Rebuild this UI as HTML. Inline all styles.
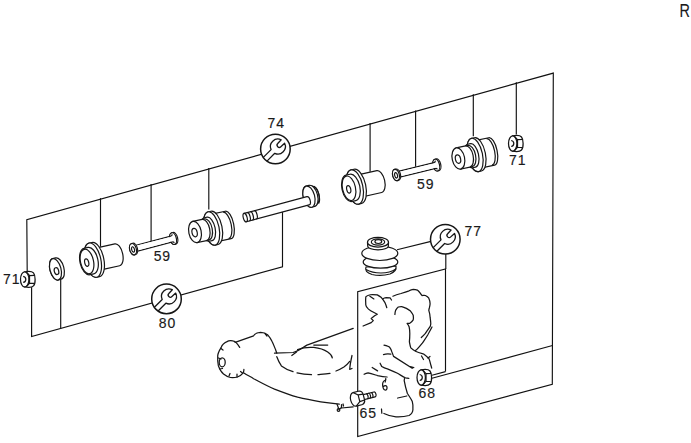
<!DOCTYPE html>
<html><head><meta charset="utf-8">
<style>
html,body{margin:0;padding:0;background:#fff;width:691px;height:443px;overflow:hidden}
svg{display:block}
text{font-family:"Liberation Sans",sans-serif;fill:#1a1a1a}
</style></head>
<body>
<svg width="691" height="443" viewBox="0 0 691 443">
<defs>
  <!-- bushing type 1: flange at front -->
  <g id="b1" stroke="#161616" stroke-width="1.2" fill="#fff">
    <path d="M8,-11.2 L31,-11.2 A5.5,11.2 0 0 1 31,11.2 L8,11.2 Z"/>
    <path d="M6,-17.5 L9,-17.5 A8,17.5 0 0 1 9,17.5 L6,17.5 A8,17.5 0 0 1 6,-17.5 Z"/>
    <ellipse cx="6" cy="0" rx="8" ry="17.5"/>
    <path d="M0,-13.5 L4,-13.5 A7,13.5 0 0 1 4,13.5 L0,13.5 A7,13.5 0 0 1 0,-13.5Z"/>
    <ellipse cx="0" cy="0" rx="6.5" ry="12.5"/>
    <ellipse cx="-0.5" cy="1" rx="2" ry="3.8"/>
  </g>
  <!-- bushing type 2: small cylinder at front -->
  <g id="b2" stroke="#161616" stroke-width="1.2" fill="#fff">
    <path d="M20,-14 L34,-14 A5.5,14 0 0 1 34,14 L20,14 Z"/>
    <path d="M31.5,-13.5 A5.5,13.5 0 0 1 31.5,13.5" fill="none"/>
    <path d="M17,-17 L20,-17 A7.5,17 0 0 1 20,17 L17,17 A7.5,17 0 0 1 17,-17Z"/>
    <ellipse cx="17" cy="0" rx="7.5" ry="17"/>
    <path d="M12,-12 L15,-12 A5.5,12 0 0 1 15,12 L12,12 A5.5,12 0 0 1 12,-12Z"/>
    <path d="M0,-10.8 L12,-10.8 A5.5,10.8 0 0 1 12,10.8 L0,10.8 Z"/>
    <path d="M9.5,-10.8 A5.5,10.8 0 0 1 9.5,10.8" fill="none"/>
    <ellipse cx="0" cy="0" rx="6.2" ry="10.8"/>
    <ellipse cx="-0.5" cy="0.5" rx="2.6" ry="4.3"/>
  </g>
  <!-- thin bolt 59 -->
  <g id="bt" stroke="#161616" stroke-width="1.2" fill="#fff">
    <path d="M41.5,-6 L42.8,-6 A3.2,6 0 0 1 42.8,6 L41.5,6 A3.2,6 0 0 1 41.5,-6Z"/>
    <ellipse cx="41.5" cy="0" rx="3.2" ry="6"/>
    <path d="M1,-3 L40,-3 Q41.5,-3 41.5,-4.5 M1,3 L40,3 Q41.5,3 41.5,4.5" fill="none"/>
    <rect x="1" y="-2.4" width="40" height="4.8" stroke="none"/>
    <path d="M0,-5.8 L1.2,-5.8 A3.3,5.8 0 0 1 1.2,5.8 L0,5.8 A3.3,5.8 0 0 1 0,-5.8Z"/>
    <ellipse cx="0" cy="0" rx="3.3" ry="5.8"/>
    <ellipse cx="0" cy="0.3" rx="1.4" ry="2.8"/>
  </g>
  <!-- long bolt -->
  <g id="bl" stroke="#161616" stroke-width="1.2" fill="#fff">
    <path d="M70,-14 L72,-13.5 C79,-11 79,3 72,6 L70,6.8 Z"/>
    <path d="M74.5,-12.5 C78,-9 78,2 74.5,5.5" fill="none"/>
    <path d="M67,-14.6 L70,-14.6 A5.7,10.9 0 0 1 70,7.2 L67,7.2 A5.7,10.9 0 0 1 67,-14.6Z"/>
    <ellipse cx="67" cy="-3.7" rx="5.7" ry="10.9"/>
    <path d="M0,-4.3 L65,-4.3 A2.2,4.3 0 0 1 65,4.3 L0,4.3 Z"/>
    <path d="M3.2,-4.3 A1.8,4.3 0 0 1 3.2,4.3 M6.4,-4.3 A1.8,4.3 0 0 1 6.4,4.3 M10.4,-4.3 A1.8,4.3 0 0 1 10.4,4.3" fill="none"/>
    <ellipse cx="0" cy="0" rx="1.9" ry="4.3"/>
  </g>
  <!-- nut -->
  <g id="nut" stroke="#161616" stroke-width="1.25" fill="#fff">
    <path d="M-3.5,-7.6 C0,-8.2 4,-8.2 5.5,-6.5 C7.5,-4 7.8,4 5.5,6.5 C4,8.2 0,8.2 -3.5,7.6 Z"/>
    <ellipse cx="-3.3" cy="0" rx="4.2" ry="7.6"/>
    <path d="M-1.5,-7.2 L1.5,-3.8 L1.5,3.8 L-1.5,7.2 M1.5,-3.8 L6.5,-4 M1.5,3.8 L6.5,4" fill="none"/>
    <path d="M-4.8,-3 Q-2.2,-2.5 -2.2,0 Q-2.2,2.5 -4.8,3" fill="none"/>
  </g>
  <!-- wrench symbol -->
  <g id="wr">
    <circle cx="0" cy="0" r="14.8" fill="#fff" stroke="#161616" stroke-width="1.5"/>
    <path transform="rotate(45)" d="M-2.6,14.5 L-2.6,3.5 A7.5,7.5 0 0 1 -2.4,-10.6 L-2.2,-5.5 A2.2,2.2 0 0 0 2.2,-5.5 L2.4,-10.6 A7.5,7.5 0 0 1 2.6,3.5 L2.6,14.5" fill="none" stroke="#161616" stroke-width="1.3" stroke-linejoin="round"/>
  </g>
</defs>

<g fill="none" stroke="#111" stroke-width="1.15">
  <!-- big outer frame -->
  <path d="M27.2,271.5 L26.8,219.6 L553.3,73.1 L552.3,384.2 L357.7,436.5 L357.7,291.8 L445.5,269 L445.5,371.6"/>
  <path d="M445.8,254 L445.8,269"/>
  <path d="M432,378.3 L552.5,345.5"/>
  <path d="M445.5,371.6 L432,375.2"/>
  <path d="M397,249.8 L431,241.4"/>
  <!-- upper group lower line -->
  <path d="M31.6,286.5 L31.6,336.5 L282.5,266.8 L282.5,211"/>
  <path d="M60.7,279.5 L60.7,328.5"/>
  <!-- drops from top line -->
  <path d="M100.5,198.2 L100.5,246.7"/>
  <path d="M151.1,184.1 L151.1,241.3"/>
  <path d="M208.8,168 L208.8,209.5"/>
  <path d="M370.1,123 L370.1,171.7"/>
  <path d="M415.6,110.4 L415.6,166.8"/>
  <path d="M473.3,94.3 L473.3,136.2"/>
  <path d="M516.3,82.3 L516.3,134.5"/>
</g>

<!-- parts upper group -->
<use href="#nut" x="28" y="279.4"/>
<!-- washer -->
<g transform="translate(55.5,269.3) rotate(-15)" stroke="#161616" stroke-width="1.2" fill="#fff">
  <path d="M0,-11 L3,-11 A5.5,11 0 0 1 3,11 L0,11 A5.5,11 0 0 1 0,-11Z"/>
  <ellipse cx="0" cy="0" rx="5.5" ry="11"/>
  <ellipse cx="0.5" cy="2" rx="2.2" ry="3.5"/>
</g>
<g transform="translate(87,261.5) rotate(-12.5)"><use href="#b1"/></g>
<g transform="translate(133,249.2) rotate(-14.8)"><use href="#bt"/></g>
<g transform="translate(195,232) rotate(-12)"><use href="#b2"/></g>
<g transform="translate(245.2,217.6) rotate(-15)"><use href="#bl"/></g>
<g transform="translate(349,188.3) rotate(-12.5)"><use href="#b1"/></g>
<g transform="translate(396,175) rotate(-13.8)"><use href="#bt"/></g>
<g transform="translate(458.4,158.5) rotate(-12)"><use href="#b2"/></g>
<use href="#nut" x="516" y="143.5"/>

<use href="#wr" x="275.4" y="149"/>
<use href="#wr" x="166.5" y="298.9"/>
<use href="#wr" x="445.3" y="239.2"/>

<!-- boot -->
<g stroke="#161616" stroke-width="1.2" fill="#fff">
  <path d="M366,267 Q364,272 372,274.5 Q381,276.5 390,274 Q397,271 396,266 Z"/>
  <path d="M366,269.5 Q372,273 381,273 Q390,273 396,269" fill="none"/>
  <ellipse cx="380.5" cy="262" rx="17.3" ry="6.2"/>
  <ellipse cx="379.8" cy="253.3" rx="18" ry="7.2"/>
  <path d="M367.5,243 L367.8,246.5 Q369,249.5 378,249.8 Q387,249.5 388.3,246.5 L388.5,243 Z"/>
  <ellipse cx="378" cy="242.2" rx="10.5" ry="4.9"/>
  <ellipse cx="378" cy="242" rx="6.7" ry="3.1"/>
  <ellipse cx="378.3" cy="241.6" rx="3.4" ry="1.9"/>
</g>

<!-- control arm -->
<g fill="none" stroke="#161616" stroke-width="1.25" stroke-linecap="round" stroke-linejoin="round">
  <path d="M239.7,347.4 C237,343 235,341 232.8,340.9 C230,340.5 228,341 227,341.6 C224,343 222,345 221.2,347.4 C219,351 217.5,354 217.7,356.7 C217.5,360 217.8,363 218.4,365.9 C219.5,369 221,372 223.5,374 C226,376 228,377 230.5,377.5 C233,377.8 235,377.6 237.4,377 C240,376 242,374.5 243.2,372.9 C243.7,371.5 244,370.5 243.9,369.4"/>
  <path d="M221,348.5 L223,350 M218.5,358 L221,359 M220,369 L222.5,368.5 M229,376 L230,373.5 M237,377 L237,374 M242.5,373 L240.5,371.5"/>
  <ellipse cx="222.2" cy="362.3" rx="3" ry="4.5"/>
  <path d="M235.1,342.3 L253.6,335.8 C255,333.5 257,332.5 260.6,332.4 C264,332.5 266,333.5 267.5,334.7 C270,337.5 271,339 272.1,341.6 C273.5,344.5 274.5,347 275.6,349.7 L276.8,353.2"/>
  <path d="M265,333.5 L267,336"/>
  <path d="M274.5,353.2 L293,352.5 C298,351.5 302,348 306.9,345.1 L353.2,328.4"/>
  <path d="M313.8,345.1 L327.7,345.1"/>
  <path d="M297.6,349.7 C303,347.5 309,347 313.8,347.4 C319,348 324,349.5 327.7,352 C330,353.5 332,356 332.3,357.8"/>
  <path d="M276.8,356.7 C278,360 279.5,363 281.4,365.9 C285,368.5 289,370.5 293,371.7" />
  <path d="M297,372.8 C302,374 306,374.5 311.5,374.7" />
  <path d="M318,374.7 C322,374.3 326,374 330,373.3" />
  <path d="M336,371 C339,370 341,369 343.9,367.1 C346,365.5 348,363.5 349.7,361.3"/>
  <path d="M291.8,355.5 L296.5,352"/>
  <path d="M352,355.5 C351,360 350,365 349.7,369.4 L352,368.5"/>
  <path d="M243.9,372.9 C247,375 250,376.5 253.6,378.7 C260,382 267,386 274.5,389.1 C282,392 290,395 297.6,397.2 C305,399 313,400.5 320.8,401.8 C327,402.7 333,403.5 339.3,404.1"/>
  <path d="M337,404.1 L339,409.5 L341.5,407.5 M341.5,404.5 L341.5,408 L353.2,406.8 M343,404 L343.5,406"/>
  <circle cx="338.5" cy="410" r="1.3"/>
</g>

<!-- knuckle -->
<g fill="none" stroke="#161616" stroke-width="1.25" stroke-linecap="round" stroke-linejoin="round">
  <path d="M363.1,326 L371.2,322.6 L373.3,320.6 L371.2,318.5 L374.6,315.8 L377.3,314.2 L374,312.5 C371,311 369.5,310 368.5,309.1 C366.5,307 365.8,306 365.8,305 C365.5,301 365.5,299 365.8,296.9 C366.5,296 367,295.8 367.9,295.5 C370,294.8 371,294.6 372.6,294.5 C374.5,294.5 376,294.6 377.3,294.9 C379,295.8 380,296.5 381.4,297.6 C383,299.5 384,301 384.8,302.3 C385.8,304.5 386.3,306 386.8,307.7"/>
  <path d="M369.9,296.2 L373.9,298.9"/>
  <path d="M382.7,298.9 C384,298 385,297.7 386.1,297.6 C388,297.6 389,297.8 390.2,298 M390.2,298 L391.5,300"/>
  <path d="M392.9,296.2 C395,295.3 398,294.3 401,293.5 C404,292.6 407,291.6 409.1,290.8 C410.5,290 412,289.5 413.2,289.4 C415,289.5 416,289.7 417.3,290.1 C418.5,291 419.3,292 420,292.8 C420.8,294 421.3,295 422,295.5 C423,295.5 424.5,295.3 425.4,295.5 C427,296.3 428,297 428.8,298.2 C429.7,300 430,302 430.1,303.7 C430,305 429.7,306.5 429.4,307.7 C429,309 428.9,309.7 428.8,310.4 C429.5,312.5 429.9,314.5 430.1,317.2 C430.5,320 430.8,322 430.8,324 C430.6,325 430.4,326 430.1,326.7 C428.5,329 427,331 425.4,333.4 C424,335 422.5,336.5 421.3,337.5"/>
  <path d="M394.9,314.5 C395,313 395.2,311.5 395.6,310.4 C396.5,308.8 397.3,307.8 398.3,307 C399.5,306.7 400.5,306.5 401.7,306.6 C403.5,307 405,307.7 406.4,308.4 C408,309.3 409.3,310.2 410.5,311.1 C411.6,312.5 412.5,313.8 413.2,315.2 C413.5,317 413.5,318.5 413.2,319.9 C412.2,321.5 411,322.6 409.8,323.3 C409,323.5 408,323.4 407.1,323.3 C408,324.5 408.7,325.5 409.1,326.7 C409.6,329 409.8,331 409.8,333.4 C409.8,337 409.6,339.5 409.4,341.8 C409.8,344 410.2,346 410.8,347.9 C412.5,349.5 414,350.5 415.5,351.2 C418,352.3 421,353.2 423.6,354 C425.5,355.5 427.5,357 429,358.7 C429.7,360.3 430,361.8 430.4,363.4 C430.8,365 431.3,366.5 431.7,368.2"/>
  <path d="M432,327 C430,331 428,334 427.7,335 C426,338 424,340.5 422.3,343.1 C420,346 418,348.5 415.5,350.6"/>
  <path d="M421.5,356 L423.5,359.5 M428,358 L430,356.5"/>
  <path d="M384,345.1 C387,345.8 389,346.5 389.7,347.4 C391,349 391.5,350.5 391.9,351.9 C392.5,353.5 393,355 393.6,356.4 L412.2,368.3 M410.3,366.6 L413.8,367.6"/>
  <path d="M383.5,354.6 C386,353.8 388.5,353.8 390.8,354.2"/>
  
  <path d="M380.1,363.2 C380.8,364.5 381.2,365.7 381.8,366.6 C383.5,367.8 385.5,368.5 387.4,368.8 C391,370.3 394.5,371.8 397.5,373.3 C400.5,375 403,376.7 405.4,377.8 L408.8,378.4"/>
  <path d="M372.2,367.5 L377.6,370.9 M364.1,374.3 C365.5,373.5 367,373 368.1,372.9 C371,373.5 374,374.5 377.6,375.6 C381,376.3 384,376.8 387.1,377 M385.8,378.5 L385.2,382"/>
  <path d="M385.8,380 C384,380.5 382.5,382.5 382.6,385 C382.8,388 383.5,390 385.5,390.2 C387,390.3 387.3,388 386.8,386.5 C386,385 384.5,385.5 383.5,386.5"/>
  <path d="M381.5,409 L381.8,413.2 M383.9,413.5 C388,415.5 392,416.6 396,416.8 C401,417 405.5,416.5 409,415.5 C411.5,414 412.8,412 412.9,409.7 C413.2,406.5 413,404 412.3,401.6 C411,398.5 409,396 407.4,393.5 C406,389 405,385 404.2,380.6 L404.5,378.5"/>
  <path d="M397.7,398 L406.8,396"/>
</g>

<!-- bolt 65 -->
<g stroke="#161616" stroke-width="1.2" fill="#fff" transform="translate(358,398.5) rotate(-14)">
  <path d="M4,-2.5 L17,-2.5 A1.5,2.5 0 0 1 17,2.5 L4,2.5Z"/>
  <path d="M9,-2.5 A1.3,2.5 0 0 1 9,2.5 M11.5,-2.5 A1.3,2.5 0 0 1 11.5,2.5 M14,-2.5 A1.3,2.5 0 0 1 14,2.5" fill="none"/>
  <path d="M-3.5,-7 L3,-7 Q6,-6 6,-3 L6,3 Q6,6 3,7 L-3.5,7 A4,7 0 0 1 -3.5,-7Z"/>
  <path d="M-3.5,-7 L1,-3.5 L1,3.5 L-3.5,7 M1,-3.5 L6,-3 M1,3.5 L6,3" fill="none"/>
</g>
<!-- nut 68 -->
<use href="#nut" x="424.5" y="377.5"/>

<!-- labels -->
<g font-size="14" letter-spacing="0.9" stroke="#1a1a1a" stroke-width="0.15">
  <text x="3.0" y="284.4">71</text>
  <text x="153.7" y="261.2">59</text>
  <text x="158.8" y="327.7">80</text>
  <text x="267.5" y="127.7">74</text>
  <text x="417.1" y="188.8">59</text>
  <text x="509.0" y="164.5">71</text>
  <text x="464.5" y="235.9">77</text>
  <text x="418.5" y="397.6">68</text>
  <text x="359.5" y="417.6">65</text>
</g>
<text transform="translate(679.4,16.9) scale(0.82,1)" font-size="17.6" stroke="#1a1a1a" stroke-width="0.1">R</text>
</svg>
</body></html>
